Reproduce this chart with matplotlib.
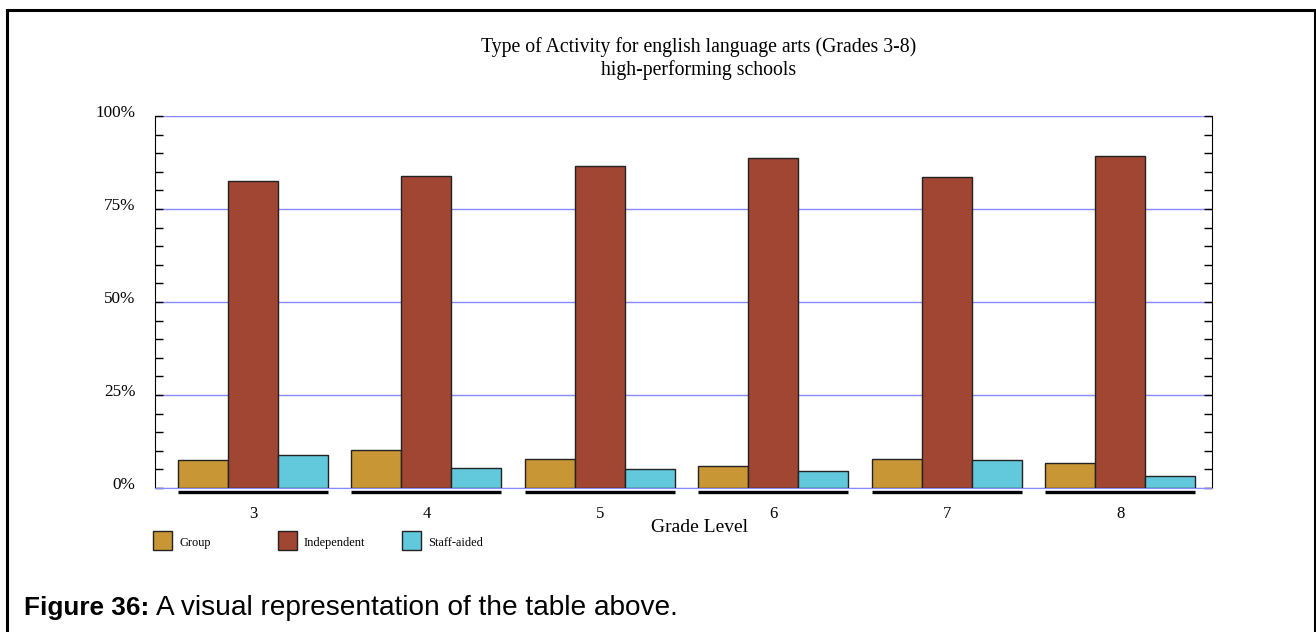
import numpy as np
import matplotlib
matplotlib.use('Agg')
from matplotlib import pyplot as plt
from matplotlib.patches import Rectangle
import matplotlib.transforms as mtrans

grades = ['3', '4', '5', '6', '7', '8']
group = [7.5, 10.2, 7.8, 5.9, 7.8, 6.7]
independent = [82.5, 83.9, 86.6, 88.7, 83.6, 89.2]
staff_aided = [8.9, 5.4, 5.1, 4.6, 7.5, 3.2]
series_names = ['Group', 'Independent', 'Staff-aided']
colors = ['#C99635', '#A04633', '#62C8DC']

serif = ['Liberation Serif', 'DejaVu Serif']

fig = plt.figure(figsize=(13.16, 6.32), dpi=100)
# outer frame
fig.patches.append(Rectangle((7 / 1316, -0.05), 1308 / 1316, 1 - 10 / 632 + 0.05,
                             transform=fig.transFigure, fill=False, lw=2.2, ec='black'))

ax = fig.add_axes([155 / 1316, 1 - 488 / 632, (1212 - 155) / 1316, (488 - 116) / 632])
x = np.arange(len(grades))
w = 0.288
for k, vals in enumerate([group, independent, staff_aided]):
    ax.bar(x + (k - 1) * w, vals, width=w, color=colors[k], edgecolor='#222222', lw=1.0, zorder=3)

# underline under each group
for xi in x:
    ax.plot([xi - 1.5 * w, xi + 1.5 * w], [-1.1, -1.1], color='black', lw=2.4,
            clip_on=False, solid_capstyle='butt', zorder=4)

ax.set_xlim(-0.565, 5.53)
ax.set_ylim(0, 100)
ax.set_yticks([0, 25, 50, 75, 100])
ax.set_yticklabels(['0%', '25%', '50%', '75%', '100%'], fontfamily=serif, fontsize=12.3)
ax.set_yticks(np.arange(0, 101, 5), minor=True)
ax.tick_params(axis='y', which='both', direction='in', length=6, width=1, left=True, right=True, pad=14)
off = mtrans.ScaledTranslation(0, 5 / 100, fig.dpi_scale_trans)
for lab in ax.get_yticklabels():
    lab.set_transform(lab.get_transform() + off)
ax.grid(axis='y', which='major', color='#8888FF', lw=1, zorder=1)
ax.set_axisbelow(True)
ax.spines['top'].set_visible(False)
ax.spines['bottom'].set_color('#8888FF')
ax.spines['left'].set_color('black')
ax.spines['right'].set_color('black')

ax.set_xticks(x)
ax.set_xticklabels(grades, fontfamily=serif, fontsize=12)
ax.tick_params(axis='x', length=0, pad=13)
ax.set_xlabel('Grade Level', fontfamily=serif, fontsize=14)
ax.xaxis.set_label_coords(0.515, -0.083)

fig.text(699 / 1316, 1 - 47 / 632, 'Type of Activity for english language arts (Grades 3-8)',
         ha='center', va='center', fontfamily=serif, fontsize=14.2)
fig.text(699 / 1316, 1 - 70 / 632, 'high-performing schools',
         ha='center', va='center', fontfamily=serif, fontsize=14.2)

# legend
leg_x = [153, 278, 402]
for k, name in enumerate(series_names):
    fig.patches.append(Rectangle((leg_x[k] / 1316, 1 - 550 / 632), 19 / 1316, 19 / 632,
                                 transform=fig.transFigure, fc=colors[k], ec='#222222', lw=1))
    fig.text((leg_x[k] + 26) / 1316, 1 - 543 / 632, name, ha='left', va='center',
             fontfamily=serif, fontsize=8.9)

fig.text(24 / 1316, 1 - 608 / 632, 'Figure 36:', ha='left', va='center',
         fontfamily='Liberation Sans', fontweight='bold', fontsize=18.8)
fig.text(156 / 1316, 1 - 608 / 632, 'A visual representation of the table above.', ha='left', va='center',
         fontfamily='Liberation Sans', fontsize=20.2)

fig.savefig('out.png', dpi=100)
